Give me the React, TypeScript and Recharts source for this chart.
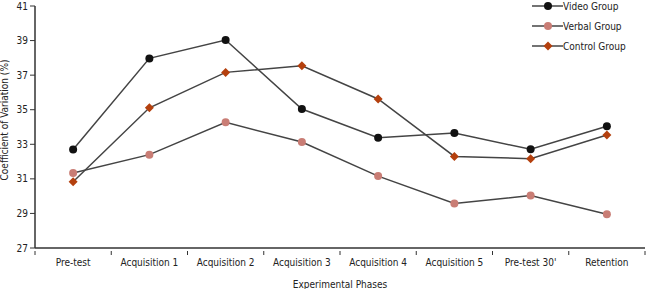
import React from "react";
import { Line, LineChart, XAxis, YAxis } from "recharts";

const phases = [
  "Pre-test",
  "Acquisition 1",
  "Acquisition 2",
  "Acquisition 3",
  "Acquisition 4",
  "Acquisition 5",
  "Pre-test 30'",
  "Retention",
];

const videoGroup = [32.7, 37.97, 39.03, 35.04, 33.38, 33.65, 32.71, 34.04];
const verbalGroup = [31.34, 32.4, 34.27, 33.13, 31.16, 29.58, 30.03, 28.95];
const controlGroup = [30.83, 35.11, 37.16, 37.54, 35.62, 32.3, 32.17, 33.54];

const yTicks = [27, 29, 31, 33, 35, 37, 39, 41];

const data = phases.map((phase, i) => ({
  phase,
  video: videoGroup[i],
  verbal: verbalGroup[i],
  control: controlGroup[i],
}));

const theme = {
  font: "'DejaVu Sans', sans-serif",
  stretch: "condensed",
  text: "#222",
  axis: "#333",
  line: "#444",
  video: "#111111",
  verbal: "#c97d75",
  control: "#b4400e",
};

const W = 647;
const H = 289;
const margin = { top: 6, right: 2, bottom: 0, left: 0 };
const yAxisWidth = 35;
const bandWidth = (W - margin.left - margin.right - yAxisWidth) / phases.length;

const textStyle = { fontStretch: theme.stretch } as React.CSSProperties;

function Diamond(props: any) {
  const { cx, cy, fill } = props;
  if (cx == null || cy == null) return null;
  const r = 4.5;
  return (
    <polygon
      points={`${cx},${cy - r} ${cx + r},${cy} ${cx},${cy + r} ${cx - r},${cy}`}
      fill={fill}
    />
  );
}

function PhaseTick(props: any) {
  const { x, y, payload, index } = props;
  const left = x - bandWidth / 2;
  const right = x + bandWidth / 2;
  return (
    <g>
      <line x1={left} y1={y - 5} x2={left} y2={y - 1} stroke={theme.axis} strokeWidth={1} />
      {index === phases.length - 1 && (
        <line x1={right} y1={y - 5} x2={right} y2={y - 1} stroke={theme.axis} strokeWidth={1} />
      )}
      <text
        x={x}
        y={y + 10}
        textAnchor="middle"
        fill={theme.text}
        fontSize={10}
        fontFamily={theme.font}
        style={textStyle}
      >
        {payload.value}
      </text>
    </g>
  );
}

function YLabel() {
  return (
    <text
      x={8}
      y={120}
      transform="rotate(-90, 8, 120)"
      textAnchor="middle"
      fill={theme.text}
      fontSize={10}
      fontFamily={theme.font}
      style={textStyle}
    >
      Coefficient of Variation (%)
    </text>
  );
}

const legendItems = [
  { name: "Video Group", color: theme.video, shape: "circle" },
  { name: "Verbal Group", color: theme.verbal, shape: "circle" },
  { name: "Control Group", color: theme.control, shape: "diamond" },
];

function LegendBox() {
  return (
    <div
      style={{
        position: "absolute",
        left: 532,
        top: -4,
        fontFamily: theme.font,
        fontStretch: theme.stretch,
        fontSize: 10,
        color: theme.text,
      }}
    >
      {legendItems.map((item) => (
        <div key={item.name} style={{ display: "flex", alignItems: "center", height: 20 }}>
          <svg width={31} height={12} style={{ display: "block" }}>
            <line x1={0} y1={6} x2={31} y2={6} stroke={theme.line} strokeWidth={1.5} />
            {item.shape === "circle" ? (
              <circle cx={16} cy={6} r={4} fill={item.color} />
            ) : (
              <polygon points="16,1.5 20.5,6 16,10.5 11.5,6" fill={item.color} />
            )}
          </svg>
          <span>{item.name}</span>
        </div>
      ))}
    </div>
  );
}

export default function App() {
  return (
    <div style={{ position: "absolute", left: 0, top: 0, width: W, height: H, background: "#fff" }}>
      <LineChart width={W} height={H} data={data} margin={margin}>
        <XAxis
          dataKey="phase"
          scale="band"
          height={41}
          interval={0}
          tick={<PhaseTick />}
          tickLine={false}
          axisLine={{ stroke: theme.axis, strokeWidth: 1.5 }}
          label={{
            value: "Experimental Phases",
            position: "insideBottom",
            offset: 1,
            fill: theme.text,
            fontSize: 10,
            fontFamily: theme.font,
            style: textStyle,
          }}
        />
        <YAxis
          width={yAxisWidth}
          domain={[27, 41]}
          ticks={yTicks}
          interval={0}
          tickSize={5}
          tickLine={{ stroke: theme.axis }}
          axisLine={{ stroke: theme.axis, strokeWidth: 1.5 }}
          tick={{ fill: theme.text, fontSize: 10, fontFamily: theme.font, style: textStyle }}
          label={<YLabel />}
        />
        <Line
          dataKey="video"
          name="Video Group"
          stroke={theme.line}
          strokeWidth={1.5}
          dot={{ r: 4, fill: theme.video, stroke: "none" }}
          isAnimationActive={false}
        />
        <Line
          dataKey="verbal"
          name="Verbal Group"
          stroke={theme.line}
          strokeWidth={1.5}
          dot={{ r: 4, fill: theme.verbal, stroke: "none" }}
          isAnimationActive={false}
        />
        <Line
          dataKey="control"
          name="Control Group"
          stroke={theme.line}
          strokeWidth={1.5}
          dot={<Diamond fill={theme.control} />}
          isAnimationActive={false}
        />
      </LineChart>
      <LegendBox />
    </div>
  );
}
